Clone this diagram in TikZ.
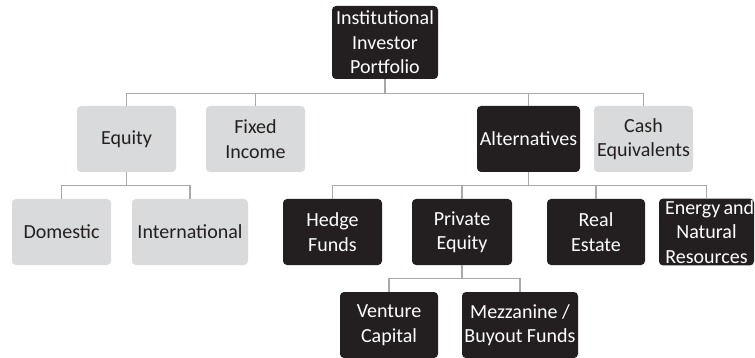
\documentclass[tikz,border=0pt]{standalone}
\usepackage{fontspec}
\setmainfont{Carlito}
\usepackage{tikz}
\usetikzlibrary{positioning}
\usepackage{xcolor}
\definecolor{PortfolioDark}{HTML}{231F20}
\definecolor{PortfolioLight}{HTML}{D9DADB}
\definecolor{PortfolioLine}{HTML}{A7A9AC}

\tikzset{
  assetbox/.style={rectangle, rounded corners=4pt, align=center, inner sep=2pt,
    minimum height=66pt, font=\fontsize{20}{24.4}\selectfont},
  darkbox/.style={assetbox, fill=PortfolioDark, text=white},
  lightbox/.style={assetbox, fill=PortfolioLight, text=PortfolioDark},
  link/.style={draw=PortfolioLine, line width=1.2pt}
}

\begin{document}
\begin{tikzpicture}[x=1pt, y=-1pt]
                \useasboundingbox (0,0) rectangle (755,358);

                % Portfolio root
                \node[darkbox, minimum width=106pt, minimum height=73pt] (root) at (385, 42.5) {Institutional\\Investor\\Portfolio};

                % Asset classes
                \node[lightbox, minimum width=99pt] (equity) at (126.5, 139) {Equity};
                \node[lightbox, minimum width=99pt] (fixed) at (255.5, 139) {Fixed\\Income};
                \node[darkbox, minimum width=103pt] (alt) at (528.5, 139) {Alternatives};
                \node[lightbox, minimum width=99pt] (cash) at (643.5, 139) {Cash\\Equivalents};

                % Equity split
                \node[lightbox, minimum width=99pt] (domestic) at (61.5, 232) {Domestic};
                \node[lightbox, minimum width=116pt] (intl) at (190, 232) {International};

                % Alternatives split
                \node[darkbox, minimum width=99pt] (hedge) at (332.5, 232) {Hedge\\Funds};
                \node[darkbox, minimum width=100pt] (private) at (462, 232) {Private\\Equity};
                \node[darkbox, minimum width=98pt] (realestate) at (596, 232) {Real\\Estate};
                \node[darkbox, minimum width=95pt, text width=89pt] (energy) at (706.5, 232)
                  {\makebox[83pt][l]{Energy\hspace{0.16em}and}\\Natural\\Resources};

                % Private equity split
                \node[darkbox, minimum width=98pt] (venture) at (389, 325) {Venture\\Capital};
                \node[darkbox, minimum width=116pt] (buyout) at (520, 325) {Mezzanine /\\Buyout Funds};

                % Connectors
                \draw[link] (root.south) -- ++(0,14) -| (equity.north);
                \draw[link] (root.south) -- ++(0,14) -| (fixed.north);
                \draw[link] (root.south) -- ++(0,14) -| (alt.north);
                \draw[link] (root.south) -- ++(0,14) -| (cash.north);

                \draw[link] (equity.south) -- ++(0,13) -| (domestic.north);
                \draw[link] (equity.south) -- ++(0,13) -| (intl.north);

                \draw[link] (alt.south) -- ++(0,13) -| (hedge.north);
                \draw[link] (alt.south) -- ++(0,13) -| (private.north);
                \draw[link] (alt.south) -- ++(0,13) -| (realestate.north);
                \draw[link] (alt.south) -- ++(0,13) -| (energy.north);

                \draw[link] (private.south) -- ++(0,13) -| (venture.north);
                \draw[link] (private.south) -- ++(0,13) -| (buyout.north);
            \end{tikzpicture}
\end{document}
